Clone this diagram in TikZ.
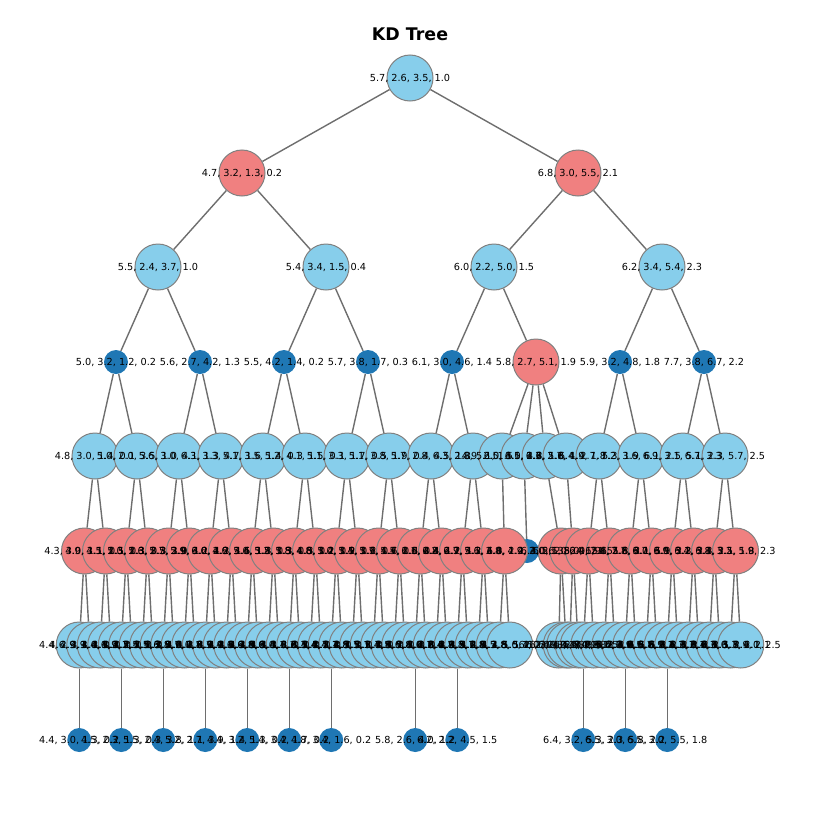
\documentclass[tikz,border=0pt]{standalone}
\usepackage{fontspec}
\setmainfont{DejaVu Sans}
\usetikzlibrary{backgrounds}

\definecolor{skyc}{HTML}{87CEEB}
\definecolor{coralc}{HTML}{F08080}
\definecolor{tabblue}{HTML}{1F77B4}
\definecolor{edgegray}{HTML}{808080}
\definecolor{linkgray}{HTML}{6E6E6E}

\tikzset{
  bigcirc/.style={circle, draw=edgegray, line width=1pt, minimum size=46pt, inner sep=0pt},
  sky/.style={bigcirc, fill=skyc},
  coral/.style={bigcirc, fill=coralc},
  dot/.style={circle, fill=tabblue, minimum size=24pt, inner sep=0pt},
  lbl/.style={font=\fontsize{9.7}{11}\selectfont, inner sep=0pt, text=black},
  link/.style={draw=linkgray, line width=1.4pt},
}

\begin{document}
\begin{tikzpicture}[x=1pt, y=-1pt]
\useasboundingbox (0,0) rectangle (819,819);

\node[font=\bfseries\fontsize{17.4}{20}\selectfont] (title) at (410,34) {KD Tree};

% ---- circles, level by level ----
\node[sky] (r) at (410,78) {};
\node[coral] (a) at (242,173) {};
\node[coral] (b) at (578,173) {};
\foreach \x/\n in {158/a1, 326/a2, 494/b1, 662/b2}
  \node[sky] (\n) at (\x,267) {};
\foreach \i/\x in {1/116, 2/200, 3/284, 4/368, 5/452, 7/620, 8/704}
  \node[dot] (c\i) at (\x,362) {};
\node[coral] (c6) at (536,362) {};

\foreach \x [count=\i] in {95,137,179,221,263,305,347,389,431,473,502,524,545,566,599,641,683,725}
  \node[sky] (d\i) at (\x,456) {};

\node[dot] (e22) at (527,551) {};
\foreach \i in {1,...,21} {
  \pgfmathsetmacro\ex{84.5+21*(\i-1)}
  \node[coral] (e\i) at (\ex,551) {};
}
\node[coral] (e23) at (561,551) {};
\node[coral] (e24) at (573,551) {};
\foreach \k in {0,...,7} {
  \pgfmathtruncatemacro\j{25+\k}
  \pgfmathsetmacro\ex{588.5+21*\k}
  \node[coral] (e\j) at (\ex,551) {};
}

\foreach \j in {1,...,42} {
  \pgfmathsetmacro\fx{79.25+10.5*(\j-1)}
  \node[sky] (f\j) at (\fx,645) {};
}
\foreach \x [count=\j from 43] in {558.75,566.25,569.75,578.25,583.25,593.75,604.25,614.75,625.25,635.75,646.25,656.75,667.25,677.75,688.25,698.75,709.25,719.75,730.25,740.75}
  \node[sky] (f\j) at (\x,645) {};

\foreach \x [count=\k] in {79.25,121.25,163.25,205.25,247.25,289.25,331.25,415.25,457.25,583.25,625.25,667.25}
  \node[dot] (g\k) at (\x,740) {};

% ---- connectors, kept underneath the circles ----
\begin{pgfonlayer}{background}
  \foreach \p/\c in {r/a, r/b, a/a1, a/a2, b/b1, b/b2,
                     a1/c1, a1/c2, a2/c3, a2/c4, b1/c5, b1/c6, b2/c7, b2/c8,
                     c1/d1, c1/d2, c2/d3, c2/d4, c3/d5, c3/d6, c4/d7, c4/d8,
                     c5/d9, c5/d10, c6/d11, c6/d12, c6/d13, c6/d14,
                     c7/d15, c7/d16, c8/d17, c8/d18,
                     d12/e22, d13/e23, d14/e24, d15/e25, d15/e26, d16/e27, d16/e28,
                     d17/e29, d17/e30, d18/e31, d18/e32}
    \draw[link] (\p) -- (\c);
  \foreach \i in {1,...,21} {
    \pgfmathtruncatemacro\p{ceil(\i/2)}
    \draw[link] (d\p) -- (e\i);
  }
  \foreach \j in {1,...,42} {
    \pgfmathtruncatemacro\p{ceil(\j/2)}
    \draw[link] (e\p) -- (f\j);
  }
  \foreach \j in {43,...,62} {
    \pgfmathtruncatemacro\p{23+floor((\j-43)/2)}
    \draw[link] (e\p) -- (f\j);
  }
  \foreach \f [count=\k] in {1,5,9,13,17,21,25,33,37,47,51,55}
    \draw[link] (f\f) -- (g\k);
\end{pgfonlayer}

% ---- point labels, set above every circle ----
\node[lbl] (tr) at (r) {5.7, 2.6, 3.5, 1.0};
\node[lbl] (ta) at (a) {4.7, 3.2, 1.3, 0.2};
\node[lbl] (tb) at (b) {6.8, 3.0, 5.5, 2.1};
\node[lbl] (ta1) at (a1) {5.5, 2.4, 3.7, 1.0};
\node[lbl] (ta2) at (a2) {5.4, 3.4, 1.5, 0.4};
\node[lbl] (tb1) at (b1) {6.0, 2.2, 5.0, 1.5};
\node[lbl] (tb2) at (b2) {6.2, 3.4, 5.4, 2.3};

\foreach \t [count=\i] in {{5.0, 3.2, 1.2, 0.2},{5.6, 2.7, 4.2, 1.3},{5.5, 4.2, 1.4, 0.2},{5.7, 3.8, 1.7, 0.3},
  {6.1, 3.0, 4.6, 1.4},{5.8, 2.7, 5.1, 1.9},{5.9, 3.2, 4.8, 1.8},{7.7, 3.8, 6.7, 2.2}}
  \node[lbl] (tc\i) at (c\i) {\t};

\foreach \t [count=\i] in {{4.8, 3.0, 1.4, 0.1},{5.0, 2.0, 3.5, 1.0},{5.6, 3.0, 4.1, 1.3},{6.3, 3.3, 4.7, 1.6},
  {5.1, 3.5, 1.4, 0.3},{5.2, 4.1, 1.5, 0.1},{5.1, 3.3, 1.7, 0.5},{5.1, 3.8, 1.9, 0.4},
  {5.7, 2.8, 4.5, 1.3},{6.3, 2.8, 5.1, 1.5},{4.9, 2.5, 4.5, 1.7},{6.0, 3.0, 4.8, 1.8},
  {6.1, 2.6, 5.6, 1.4},{6.3, 2.7, 4.9, 1.8},{6.4, 2.7, 5.3, 1.9},{7.2, 3.6, 6.1, 2.5},
  {6.9, 3.1, 5.1, 2.3},{6.7, 3.3, 5.7, 2.5}}
  \node[lbl] (td\i) at (d\i) {\t};

\foreach \t [count=\i] in {{4.3, 3.0, 1.1, 0.1},{4.9, 3.1, 1.5, 0.1},{4.5, 2.3, 1.3, 0.3},{5.0, 2.3, 3.3, 1.0},
  {5.6, 2.5, 3.9, 1.1},{5.7, 2.9, 4.2, 1.3},{5.9, 3.0, 4.2, 1.5},{6.6, 2.9, 4.6, 1.3},
  {4.6, 3.4, 1.4, 0.3},{5.0, 3.5, 1.3, 0.3},{5.2, 3.5, 1.5, 0.2},{5.8, 4.0, 1.2, 0.2},
  {4.8, 3.4, 1.9, 0.2},{5.0, 3.5, 1.6, 0.6},{5.4, 3.9, 1.7, 0.4},{5.7, 4.4, 1.5, 0.4},
  {5.5, 2.6, 4.4, 1.2},{6.1, 2.8, 4.7, 1.2},{6.2, 2.9, 4.3, 1.3},{6.7, 3.1, 4.4, 1.4},
  {5.6, 2.8, 4.9, 2.0},{6.0, 2.2, 4.0, 1.0},{6.3, 2.5, 5.0, 1.9},{6.5, 2.8, 4.6, 1.5},
  {6.3, 2.9, 5.6, 1.8},{6.4, 2.8, 5.6, 2.1},{7.4, 2.8, 6.1, 1.9},{7.7, 3.0, 6.1, 2.3},
  {6.7, 3.0, 5.2, 2.3},{6.9, 3.1, 5.4, 2.1},{6.4, 3.1, 5.5, 1.8},{6.8, 3.2, 5.9, 2.3}}
  \node[lbl] (te\i) at (e\i) {\t};

\foreach \t [count=\i] in {{4.4, 2.9, 1.4, 0.2},{4.6, 3.1, 1.5, 0.2},{4.9, 3.0, 1.4, 0.2},{4.9, 3.1, 1.5, 0.1},
  {4.4, 3.2, 1.3, 0.2},{4.6, 3.2, 1.4, 0.2},{4.9, 2.4, 3.3, 1.0},{5.1, 2.5, 3.0, 1.1},
  {5.5, 2.3, 4.0, 1.3},{5.5, 2.5, 4.0, 1.3},{5.6, 2.9, 3.6, 1.3},{5.8, 2.7, 4.1, 1.0},
  {5.7, 2.8, 4.1, 1.3},{6.0, 2.9, 4.5, 1.5},{6.1, 2.9, 4.7, 1.4},{6.3, 2.3, 4.4, 1.3},
  {6.4, 2.9, 4.3, 1.3},{6.6, 3.0, 4.4, 1.4},{4.6, 3.6, 1.0, 0.2},{4.8, 3.4, 1.6, 0.2},
  {5.0, 3.4, 1.5, 0.2},{5.0, 3.6, 1.4, 0.2},{5.1, 3.4, 1.5, 0.2},{5.2, 3.4, 1.4, 0.2},
  {5.3, 3.7, 1.5, 0.2},{5.4, 3.7, 1.5, 0.2},{5.4, 3.9, 1.3, 0.4},{5.1, 3.5, 1.4, 0.2},
  {4.8, 3.1, 1.6, 0.2},{5.1, 3.7, 1.5, 0.4},{5.1, 3.8, 1.5, 0.3},{5.4, 3.9, 1.7, 0.4},
  {5.5, 2.4, 3.8, 1.1},{5.6, 3.0, 4.5, 1.5},{5.8, 2.7, 3.9, 1.2},{6.0, 3.4, 4.5, 1.6},
  {6.1, 2.8, 4.0, 1.3},{6.4, 3.2, 4.5, 1.5},{6.7, 3.1, 4.7, 1.5},{6.8, 2.8, 4.8, 1.4},
  {5.7, 2.5, 5.0, 2.0},{5.8, 2.8, 5.1, 2.4},{6.1, 3.0, 4.9, 1.8},{6.2, 2.8, 4.8, 1.8},
  {6.7, 3.0, 5.0, 1.7},{6.9, 3.1, 4.9, 1.5},{6.4, 2.8, 5.6, 2.2},{6.5, 3.0, 5.2, 2.0},
  {6.7, 2.5, 5.8, 1.8},{7.2, 3.0, 5.8, 1.6},{7.3, 2.9, 6.3, 1.8},{7.6, 3.0, 6.6, 2.1},
  {7.7, 2.6, 6.9, 2.3},{7.9, 3.8, 6.4, 2.0},{6.5, 3.2, 5.1, 2.0},{6.7, 3.1, 5.6, 2.4},
  {6.9, 3.2, 5.7, 2.3},{7.2, 3.2, 6.0, 1.8},{6.3, 3.4, 5.6, 2.4},{6.7, 3.3, 5.7, 2.1},
  {7.1, 3.0, 5.9, 2.1},{6.3, 3.3, 6.0, 2.5}}
  \node[lbl] (tf\i) at (f\i) {\t};

\foreach \t [count=\i] in {{4.4, 3.0, 1.3, 0.2},{4.5, 2.3, 1.3, 0.3},{5.5, 2.4, 3.8, 1.1},{5.2, 2.7, 3.9, 1.4},
  {4.4, 3.2, 1.3, 0.2},{5.4, 3.4, 1.7, 0.2},{4.8, 3.4, 1.6, 0.2},{5.8, 2.6, 4.0, 1.2},
  {6.2, 2.2, 4.5, 1.5},{6.4, 3.2, 5.3, 2.3},{6.5, 3.0, 5.8, 2.2},{6.5, 3.0, 5.5, 1.8}}
  \node[lbl] (tg\i) at (g\i) {\t};

\end{tikzpicture}
\end{document}
